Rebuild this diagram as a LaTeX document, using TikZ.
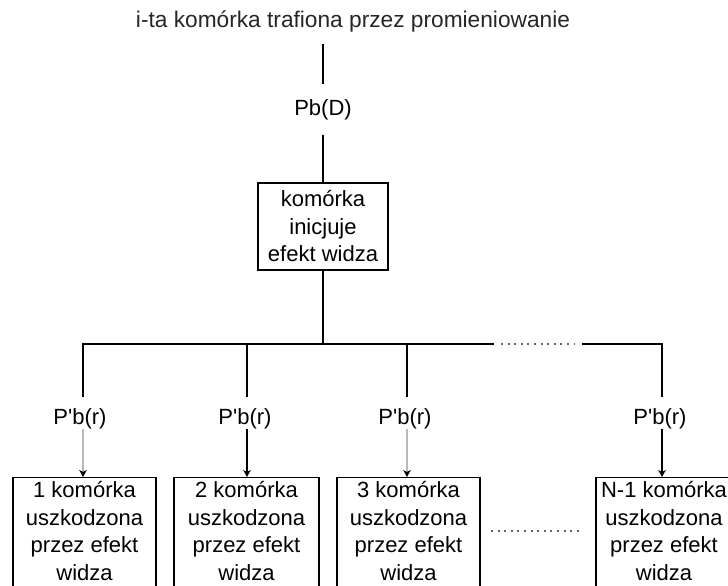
\documentclass[tikz,border=0pt]{standalone}
\usepackage{fontspec}
\setmainfont{Liberation Sans}[Ligatures=TeXOff]
\usetikzlibrary{arrows.meta}
\newcommand{\cellbody}[2]{\parbox[t][125pt][t]{#1}{\fontsize{22}{27.5}\selectfont\centering\strut #2}}
\begin{document}
\begin{tikzpicture}[x=1pt,y=-1pt,
  lw/.style={line width=1.1pt, draw=black},
  txt/.style={font=\fontsize{22}{27.5}\selectfont, text=black},
  lbl/.style={txt, inner xsep=0pt, inner ysep=0pt, text height=16pt, text depth=5pt, anchor=base},
  initbox/.style={txt, draw, line width=1.1pt, align=center, inner sep=0pt, minimum width=130pt, minimum height=87pt},
  cellbox/.style={draw, line width=1.1pt, inner xsep=0pt, inner ysep=0.75pt, anchor=north},
  dotl/.style={line width=1.2pt, draw=black!60, dash pattern=on 2pt off 4.6pt},
  arr/.style={line width=1.1pt, -{Stealth[length=7pt,width=7.5pt,inset=2pt]}},
  greyarr/.style={arr, draw=gray!55, -{Stealth[length=7pt,width=7.5pt,inset=2pt,black]}}
]
\useasboundingbox (0,0) rectangle (728,586);
\clip (0,0) rectangle (728,586);

% title and top part
\node[font=\fontsize{22.7}{27.5}\selectfont, anchor=base, inner xsep=0pt, inner ysep=11.4pt, text=black!85] (title) at (353,28) {i-ta komórka trafiona przez promieniowanie};
\node[lbl, inner ysep=14.5pt] (pbd) at (323,115) {Pb(D)};
\node[initbox] (init) at (323,226.5) {komórka\\inicjuje\\efekt widza};

% bar coordinates
\coordinate (j)   at (323,344);
\coordinate (h1)  at (83,344);
\coordinate (h2)  at (247,344);
\coordinate (h3)  at (407,344);
\coordinate (hA)  at (494,344);
\coordinate (hA2) at (501,344);
\coordinate (hB)  at (575,344);
\coordinate (hB2) at (582,344);
\coordinate (hN)  at (662,344);
\coordinate (d1)  at (83,397);
\coordinate (d2)  at (247,397);
\coordinate (d3)  at (407,397);
\coordinate (dN)  at (662,397);

% branch labels
\node[lbl] (l1) at (80,424)  {P'b(r)};
\node[lbl] (l2) at (245,424) {P'b(r)};
\node[lbl] (l3) at (405,424) {P'b(r)};
\node[lbl] (lN) at (660,424) {P'b(r)};

% bottom boxes
\node[cellbox] (b1) at (84.5,477)  {\cellbody{143pt}{1 komórka\\uszkodzona\\przez efekt\\widza}};
\node[cellbox] (b2) at (246.5,477) {\cellbody{145pt}{2 komórka\\uszkodzona\\przez efekt\\widza}};
\node[cellbox] (b3) at (408.5,477) {\cellbody{143pt}{3 komórka\\uszkodzona\\przez efekt\\widza}};
\node[cellbox] (bN) at (664,477)   {\cellbody{136pt}{N-1 komórka\\uszkodzona\\przez efekt\\widza}};

\coordinate (g1) at (491,531);
\coordinate (g2) at (583,531);

% connectors
\draw[lw] (title.south -| pbd.north) -- (pbd.north);
\draw[lw] (pbd.south) -- (init.north);
\draw[lw] (init.south) -- (j);
\draw[lw] (d1) -- (h1) -- (hA);
\draw[dotl] (hA2) -- (hB);
\draw[lw] (hB2) -- (hN) -- (dN);
\draw[lw] (h2) -- (d2);
\draw[lw] (h3) -- (d3);

\draw[greyarr] (l1.south -| d1) -- (d1 |- b1.north);
\draw[arr] (l2.south -| d2) -- (d2 |- b2.north);
\draw[greyarr] (l3.south -| d3) -- (d3 |- b3.north);
\draw[arr] (lN.south -| dN) -- (dN |- bN.north);

\draw[dotl] (g1) -- (g2);
\end{tikzpicture}
\end{document}
